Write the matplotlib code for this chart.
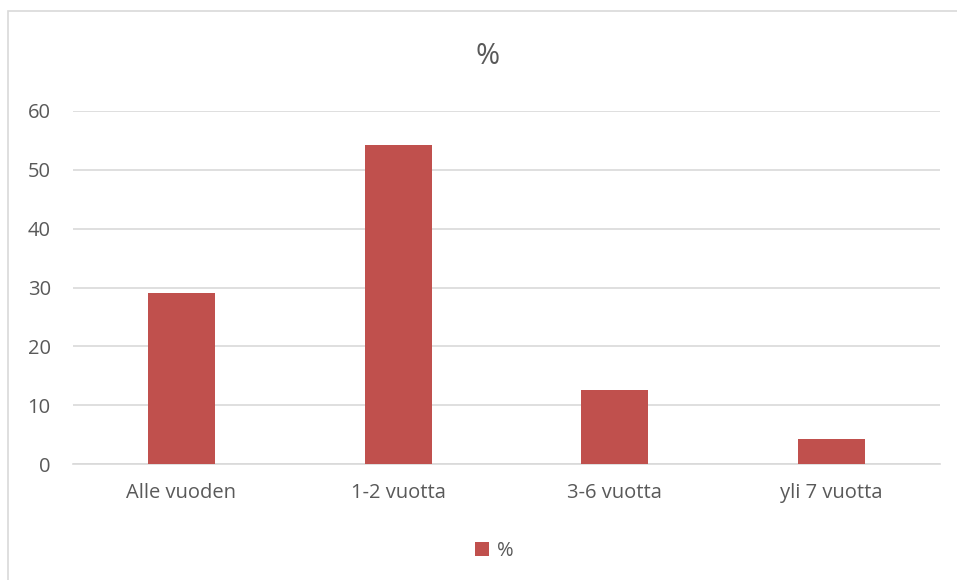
import matplotlib.pyplot as plt
from matplotlib.patches import Rectangle

categories = ["Alle vuoden", "1-2 vuotta", "3-6 vuotta", "yli 7 vuotta"]
values = [29, 54.2, 12.5, 4.2]
yticks = [0, 10, 20, 30, 40, 50, 60]

plt.rcParams['font.family'] = ['Open Sans', 'DejaVu Sans']
txt = '#595959'
grid = '#d9d9d9'
bar_col = '#c0504d'

fig = plt.figure(figsize=(9.57, 5.80), dpi=100)
# chart border (only left/top visible, image is cropped)
fig.patches.append(Rectangle((8/957, -0.1), 1.2, 1 - 11/580 + 0.1, transform=fig.transFigure,
                             fill=False, edgecolor=grid, linewidth=1.2))

ax = fig.add_axes([73/957, 1 - 464/580, (940 - 73)/957, (464 - 111)/580])
x = range(len(categories))
ax.bar(x, values, width=0.31, color=bar_col, label='%', zorder=3)
ax.set_xlim(-0.5, len(categories) - 0.5)
ax.set_ylim(0, 60)
ax.set_yticks(yticks)
ax.set_xticks(list(x))
ax.set_xticklabels(categories)
ax.yaxis.grid(True, color=grid, linewidth=1.2, zorder=0)
for s in ['top', 'right', 'left']:
    ax.spines[s].set_visible(False)
ax.spines['bottom'].set_color(grid)
ax.spines['bottom'].set_linewidth(1.2)
ax.tick_params(axis='both', length=0, colors=txt, labelsize=14.5)
ax.tick_params(axis='y', pad=16)
ax.tick_params(axis='x', pad=14)

fig.text(488/957, 1 - 57/580, '%', ha='center', va='center', fontsize=21, color=txt)
fig.legend(loc='center', bbox_to_anchor=(494/957, 1 - 551/580), frameon=False,
           fontsize=14.5, labelcolor=txt, handlelength=0.7, handleheight=0.7, handletextpad=0.4)

fig.savefig('out.png', dpi=100)
